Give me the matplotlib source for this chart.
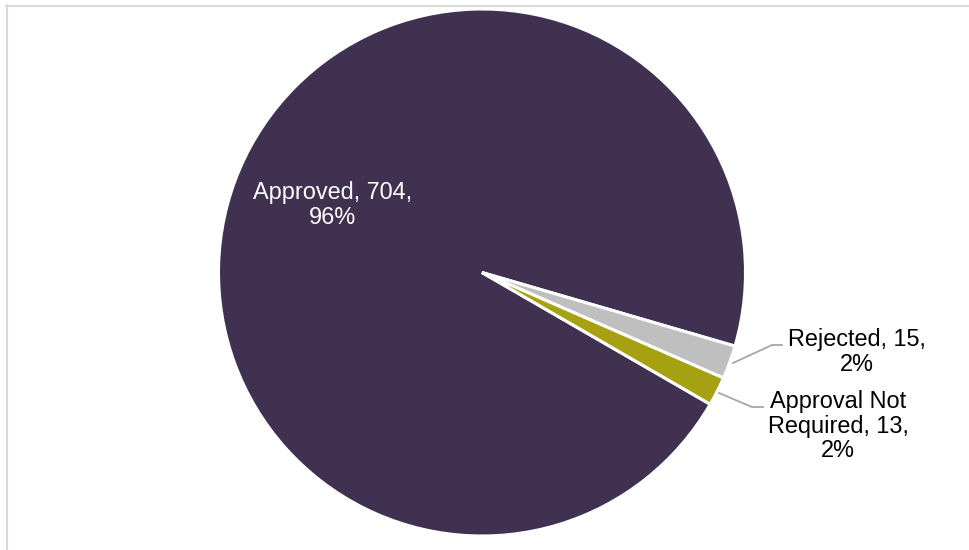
import matplotlib.pyplot as plt
from matplotlib.lines import Line2D

plt.rcParams['font.family'] = ['Liberation Sans', 'DejaVu Sans']

labels = ['Approved', 'Rejected', 'Approval Not\nRequired']
values = [704, 15, 13]
colors = ['#403151', '#BFBFBF', '#A6A112']

total = sum(values)
pcts = [round(v * 100 / total) for v in values]

fig = plt.figure(figsize=(9.69, 5.5), dpi=100)
ax = fig.add_axes([0, 0, 1, 1])

# pixel-like coordinates, y up
cx, cy, r = 482, 550 - 272.5, 263.5
ax.pie(values, colors=colors, startangle=-30, counterclock=False,
       center=(cx, cy), radius=r,
       wedgeprops=dict(edgecolor='white', linewidth=2.2))
ax.set_xlim(0, 969)
ax.set_ylim(0, 550)
ax.set_aspect('auto')
ax.axis('off')

texts = [f'{l}, {v},\n{p}%' for l, v, p in zip(labels, values, pcts)]
label_pos = [(333, 550 - 205), (857, 550 - 352), (838, 550 - 426)]
text_colors = ['white', 'black', 'black']
for t, (x, y), c in zip(texts, label_pos, text_colors):
    ax.text(x, y, t, ha='center', va='center', fontsize=16.9,
            color=c, linespacing=1.08)

# leader lines
leaders = [
    [(733, 363), (772, 345), (782, 345)],
    [(719, 393), (752, 407), (763, 407)],
]
for pts in leaders:
    xs = [p[0] for p in pts]
    ys = [550 - p[1] for p in pts]
    ax.plot(xs, ys, color='#A6A6A6', linewidth=1.3)

# chart border
fig.add_artist(Line2D([6 / 969, 1], [1 - 5.5 / 550, 1 - 5.5 / 550],
                      color='#D9D9D9', linewidth=1.5))
fig.add_artist(Line2D([6.5 / 969, 6.5 / 969], [0, 1 - 5 / 550],
                      color='#D9D9D9', linewidth=1.5))

fig.savefig('out.png', dpi=100)
